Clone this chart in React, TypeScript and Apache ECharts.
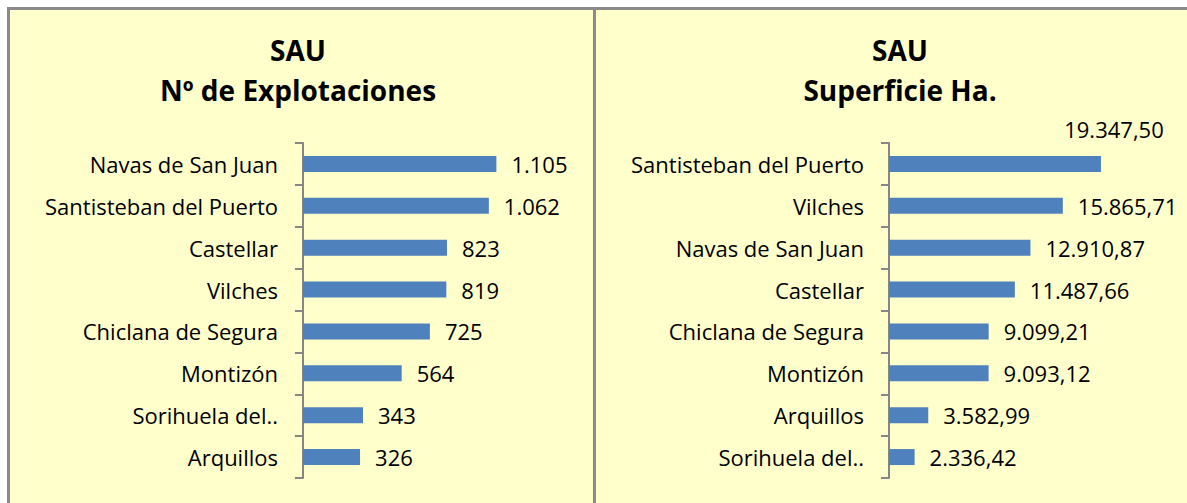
import React, { useEffect, useRef } from "react";
import * as echarts from "echarts";

const leftCategories = [
  "Navas de San Juan",
  "Santisteban del Puerto",
  "Castellar",
  "Vilches",
  "Chiclana de Segura",
  "Montizón",
  "Sorihuela del..",
  "Arquillos",
];
const leftValues = [1105, 1062, 823, 819, 725, 564, 343, 326];

const rightCategories = [
  "Santisteban del Puerto",
  "Vilches",
  "Navas de San Juan",
  "Castellar",
  "Chiclana de Segura",
  "Montizón",
  "Arquillos",
  "Sorihuela del..",
];
const rightValues = [19347.5, 15865.71, 12910.87, 11487.66, 9099.21, 9093.12, 3582.99, 2336.42];

const leftTitle = ["SAU", "Nº de Explotaciones"];
const rightTitle = ["SAU", "Superficie Ha."];

const FONT = "'Open Sans', sans-serif";
const LABEL_SIZE = 22;

function fmt(v: number, decimals: number): string {
  const fixed = v.toFixed(decimals);
  const [intPart, dec] = fixed.split(".");
  const withDots = intPart.replace(/\B(?=(\d{3})+(?!\d))/g, ".");
  return dec ? withDots + "," + dec : withDots;
}

export default function App() {
  const ref = useRef<HTMLDivElement>(null);
  useEffect(() => {
    if (!ref.current) return;
    const chart = echarts.init(ref.current, undefined, { renderer: "svg" });
    const axisGray = "#868686";
    const catAxis = (data: string[], gridIndex: number) => ({
      type: "category" as const,
      gridIndex,
      data,
      inverse: true,
      boundaryGap: true,
      axisLine: { show: true, lineStyle: { color: axisGray, width: 2 } },
      axisTick: { show: true, length: 8, alignWithLabel: false, lineStyle: { color: axisGray, width: 2 } },
      axisLabel: { color: "#000", fontSize: LABEL_SIZE, fontFamily: FONT, margin: 25, padding: [0, 0, 5, 0] },
    });
    const titleText = (lines: string[], cx: number) => [
      {
        type: "text",
        x: cx,
        y: 50,
        style: { text: lines[0], fill: "#000", font: `bold 28px ${FONT}`, textAlign: "center", textVerticalAlign: "middle" },
      },
      {
        type: "text",
        x: cx,
        y: 90,
        style: { text: lines[1], fill: "#000", font: `bold 28px ${FONT}`, textAlign: "center", textVerticalAlign: "middle" },
      },
    ];
    chart.setOption({
      animation: false,
      backgroundColor: "#FFFFCC",
      graphic: [
        { type: "rect", z: -1, shape: { x: 0, y: 0, width: 1187, height: 7 }, style: { fill: "#fff" } },
        { type: "rect", z: -1, shape: { x: 0, y: 0, width: 7, height: 503 }, style: { fill: "#fff" } },
        { type: "line", z: 0, shape: { x1: 7, y1: 8.5, x2: 1187, y2: 8.5 }, style: { stroke: "#8a8a8a", lineWidth: 3 } },
        { type: "line", z: 0, shape: { x1: 8.5, y1: 7, x2: 8.5, y2: 503 }, style: { stroke: "#8a8a8a", lineWidth: 3 } },
        { type: "line", z: 0, shape: { x1: 594.5, y1: 7, x2: 594.5, y2: 503 }, style: { stroke: "#8a8a8a", lineWidth: 3 } },
        ...titleText(leftTitle, 298),
        ...titleText(rightTitle, 900),
      ],
      grid: [
        { left: 303, top: 143, width: 210, height: 335 },
        { left: 889, top: 143, width: 241, height: 335 },
      ],
      xAxis: [
        { type: "value", gridIndex: 0, min: 0, max: 1200, show: false },
        { type: "value", gridIndex: 1, min: 0, max: 22000, show: false },
      ],
      yAxis: [catAxis(leftCategories, 0), catAxis(rightCategories, 1)],
      series: [
        {
          type: "bar",
          xAxisIndex: 0,
          yAxisIndex: 0,
          data: leftValues,
          barWidth: 16,
          itemStyle: { color: "#4F81BD" },
          label: {
            show: true,
            position: "right",
            distance: 15,
            color: "#000",
            fontSize: LABEL_SIZE,
            fontFamily: FONT,
            padding: [0, 0, 5, 0],
            formatter: (p: any) => fmt(p.value, 0),
          },
        },
        {
          type: "bar",
          xAxisIndex: 1,
          yAxisIndex: 1,
          data: rightValues.map((v, i) =>
            i === 0
              ? { value: v, label: { position: "top", distance: 5, offset: [119, -6] } }
              : v
          ),
          barWidth: 16,
          itemStyle: { color: "#4F81BD" },
          label: {
            show: true,
            position: "right",
            distance: 15,
            color: "#000",
            fontSize: LABEL_SIZE,
            fontFamily: FONT,
            padding: [0, 0, 5, 0],
            formatter: (p: any) => fmt(p.value, 2),
          },
        },
      ],
    });
    return () => chart.dispose();
  }, []);
  return <div ref={ref} style={{ position: "fixed", left: 0, top: 0, width: 1187, height: 503 }} />;
}
